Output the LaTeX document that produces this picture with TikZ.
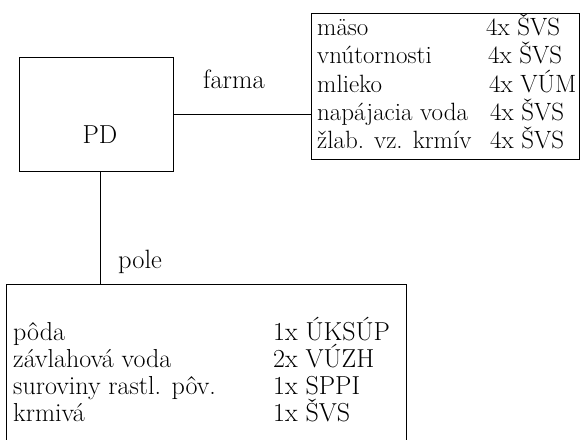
\documentclass[tikz,border=0pt]{standalone}
\begin{document}
\begin{tikzpicture}[x=1pt,y=-1pt,
  frame/.style={draw,line width=1pt,rectangle,inner sep=0pt},
  txt/.style={anchor=base west,inner sep=0pt,font=\fontsize{25}{28}\selectfont},
  txtb/.style={anchor=base west,inner sep=0pt,font=\fontsize{26}{28}\selectfont},
  lbl/.style={anchor=base west,inner sep=0pt,font=\fontsize{26.5}{30}\selectfont},
  conn/.style={line width=1pt}]
\useasboundingbox (0,0) rectangle (580,439);
% PD box
\node[frame,minimum width=154pt,minimum height=114pt] (pd) at (96,114) {};
\node[anchor=base,inner sep=0pt,font=\fontsize{26}{30}\selectfont] (pdtext) at (100,143) {PD};
% farm box
\node[frame,minimum width=268pt,minimum height=146pt] (farm) at (445,86) {};
% field box (open at bottom)
\node[inner sep=0pt,minimum width=399pt,minimum height=160pt] (field) at (206.5,365) {};
\draw[conn] (field.south west) -- (field.north west) -- (field.north east) -- (field.south east);
% connectors
\draw[conn] (pd.east) -- (pd.east -| farm.west);
\draw[conn] ([xshift=4pt]pd.south) -- ([xshift=4pt]pd.south |- field.north);
% labels
\node[lbl] (farma) at (203,88) {farma};
\node[lbl] (pole) at (118,268) {pole};
% farm rows
\node[txt] (f1) at (317,35) {mäso};
\node[txt] (f2) at (317,63) {vnútornosti};
\node[txt] (f3) at (317,92) {mlieko};
\node[txt] (f4) at (317,120) {napájacia voda};
\node[txt] (f5) at (317,148) {žlab. vz. krmív};
\node[txt] (g1) at (486,35) {4x ŠVS};
\node[txt] (g2) at (488,63) {4x ŠVS};
\node[txt] (g3) at (489,92) {4x VÚM};
\node[txt] (g4) at (490,120) {4x ŠVS};
\node[txt] (g5) at (490,148) {4x ŠVS};
% field rows
\node[txtb] (p1) at (13,340) {pôda};
\node[txtb] (p2) at (13,367) {závlahová voda};
\node[txtb] (p3) at (13,394) {suroviny rastl. pôv.};
\node[txtb] (p4) at (13,421) {krmivá};
\node[txtb] (q1) at (273,340) {1x ÚKSÚP};
\node[txtb] (q2) at (273,367) {2x VÚZH};
\node[txtb] (q3) at (273,394) {1x SPPI};
\node[txtb] (q4) at (273,421) {1x ŠVS};
\end{tikzpicture}
\end{document}
